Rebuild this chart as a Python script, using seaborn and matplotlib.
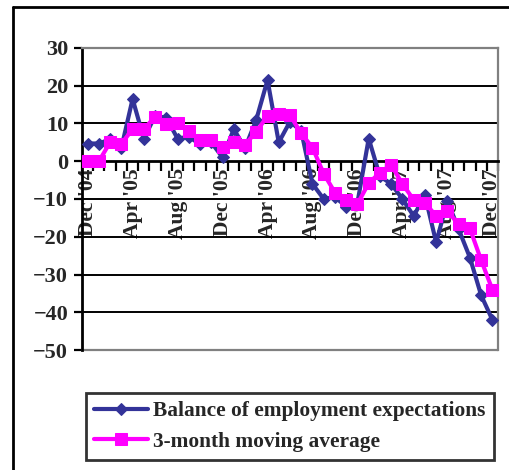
import numpy as np
import pandas as pd
import matplotlib
matplotlib.use("Agg")
import matplotlib.pyplot as plt
import seaborn as sns
from matplotlib.lines import Line2D

# ---- data ----
months = ["Dec '04", "Jan '05", "Feb '05", "Mar '05", "Apr '05", "May '05", "Jun '05",
          "Jul '05", "Aug '05", "Sep '05", "Oct '05", "Nov '05", "Dec '05",
          "Jan '06", "Feb '06", "Mar '06", "Apr '06", "May '06", "Jun '06",
          "Jul '06", "Aug '06", "Sep '06", "Oct '06", "Nov '06", "Dec '06",
          "Jan '07", "Feb '07", "Mar '07", "Apr '07", "May '07", "Jun '07",
          "Jul '07", "Aug '07", "Sep '07", "Oct '07", "Nov '07", "Dec '07"]
balance = [4.7, 4.7, 5.8, 3.5, 16.5, 6.0, 12.0, 11.5, 6.0, 6.5, 4.5, 5.0, 1.0,
           8.5, 3.5, 11.0, 21.5, 5.0, 10.5, 8.0, -6.0, -10.0, -9.5, -12.0, -11.0,
           6.0, -4.0, -6.0, -10.0, -14.5, -9.0, -21.5, -10.5, -18.0, -25.5, -35.5, -42.0]
moving_avg = [0.0, 0.0, 5.0, 4.6, 8.5, 8.5, 11.8, 9.8, 10.0, 8.0, 5.5, 5.5, 3.7,
              5.0, 4.4, 7.8, 12.0, 12.5, 12.2, 7.4, 3.6, -3.3, -8.3, -10.3, -11.3,
              -5.8, -3.0, -1.0, -6.0, -10.2, -11.0, -14.5, -13.2, -16.7, -17.8, -26.2, -34.0]
shown_labels = ["Dec '04", "Apr '05", "Aug '05", "Dec '05", "Apr '06", "Aug '06",
                "Dec '06", "Apr '07", "Aug '07", "Dec '07"]
y_ticks = [-50, -40, -30, -20, -10, 0, 10, 20, 30]
grid_levels = [20, 10, -10, -20, -30, -40]
series_names = ["Balance of employment expectations", "3-month moving average"]

df = pd.DataFrame({"idx": np.arange(len(months)), "month": months,
                   "balance": balance, "avg": moving_avg})

sns.set_theme(style="white")
plt.rcParams['font.family'] = ['Liberation Serif', 'DejaVu Serif']
plt.rcParams['font.weight'] = 'bold'

W, H = 509, 470
fig = plt.figure(figsize=(W / 100, H / 100), dpi=100)
ax = fig.add_axes([82 / W, 1 - 350 / H, (498 - 82) / W, (350 - 48) / H])

blue = "#333399"
mag = "#FF00FF"

for g in grid_levels:
    ax.axhline(g, color="black", lw=1.4, zorder=1)
ax.axhline(-50, color="#808080", lw=1.6, zorder=1, clip_on=False)

sns.lineplot(data=df, x="idx", y="balance", ax=ax, color=blue, lw=3,
             marker="D", markersize=6, markeredgecolor=blue, markerfacecolor=blue,
             label=series_names[0], zorder=3)
sns.lineplot(data=df, x="idx", y="avg", ax=ax, color=mag, lw=3,
             marker="s", markersize=8, markeredgecolor=mag, markerfacecolor=mag,
             label=series_names[1], zorder=4)

ax.set_xlim(-0.5, len(months) - 0.5)
ax.set_ylim(-50, 30)
ax.set_xlabel("")
ax.set_ylabel("")

# spines first (set_position resets tick styling)
ax.spines["bottom"].set_position(("data", 0))
ax.spines["bottom"].set_color("black")
ax.spines["bottom"].set_linewidth(2)
ax.spines["left"].set_color("black")
ax.spines["left"].set_linewidth(2)
for s in ["top", "right"]:
    ax.spines[s].set_color("#808080")
    ax.spines[s].set_linewidth(1.6)
for s in ax.spines.values():
    s.set_zorder(2)

label_pos = [months.index(m) for m in shown_labels]
ax.set_xticks(np.arange(-0.5, len(months), 1), minor=True)
ax.set_xticks(label_pos)
ax.set_xticklabels(shown_labels)
ax.set_yticks(y_ticks)
ax.set_yticklabels([str(v).replace("-", "\u2212") for v in y_ticks])
ax.tick_params(axis="x", which="major", length=0, pad=5, labelsize=15.5,
               labelrotation=90)
ax.tick_params(axis="x", which="minor", length=7, width=1.6, direction="out",
               color="black", bottom=True)
ax.tick_params(axis="y", which="major", length=6, width=1.6, direction="out",
               color="black", left=True, pad=4, labelsize=16)
for t in ax.get_xticklabels():
    t.set_fontweight("bold")
    t.set_va("top")
    t.set_ha("center")
for t in ax.get_yticklabels():
    t.set_fontweight("bold")

handles, labels = ax.get_legend_handles_labels()
ax.get_legend().remove()
leg = fig.legend(handles, labels, loc="center", bbox_to_anchor=(290 / W, 1 - 426.5 / H),
                 frameon=True, fancybox=False, shadow=False,
                 prop={"weight": "bold", "size": 15.4}, handlelength=2.5,
                 handletextpad=0.25, labelspacing=0.5, borderpad=0.38,
                 borderaxespad=0)
leg.get_frame().set_edgecolor("black")
leg.get_frame().set_linewidth(2)

fig.add_artist(Line2D([13 / W, 13 / W], [-0.01, 1 - 7 / H], transform=fig.transFigure,
                      color="black", lw=2))
fig.add_artist(Line2D([13 / W, 1.01], [1 - 7 / H, 1 - 7 / H], transform=fig.transFigure,
                      color="black", lw=2))

fig.savefig("out.png", dpi=100, facecolor="white")
